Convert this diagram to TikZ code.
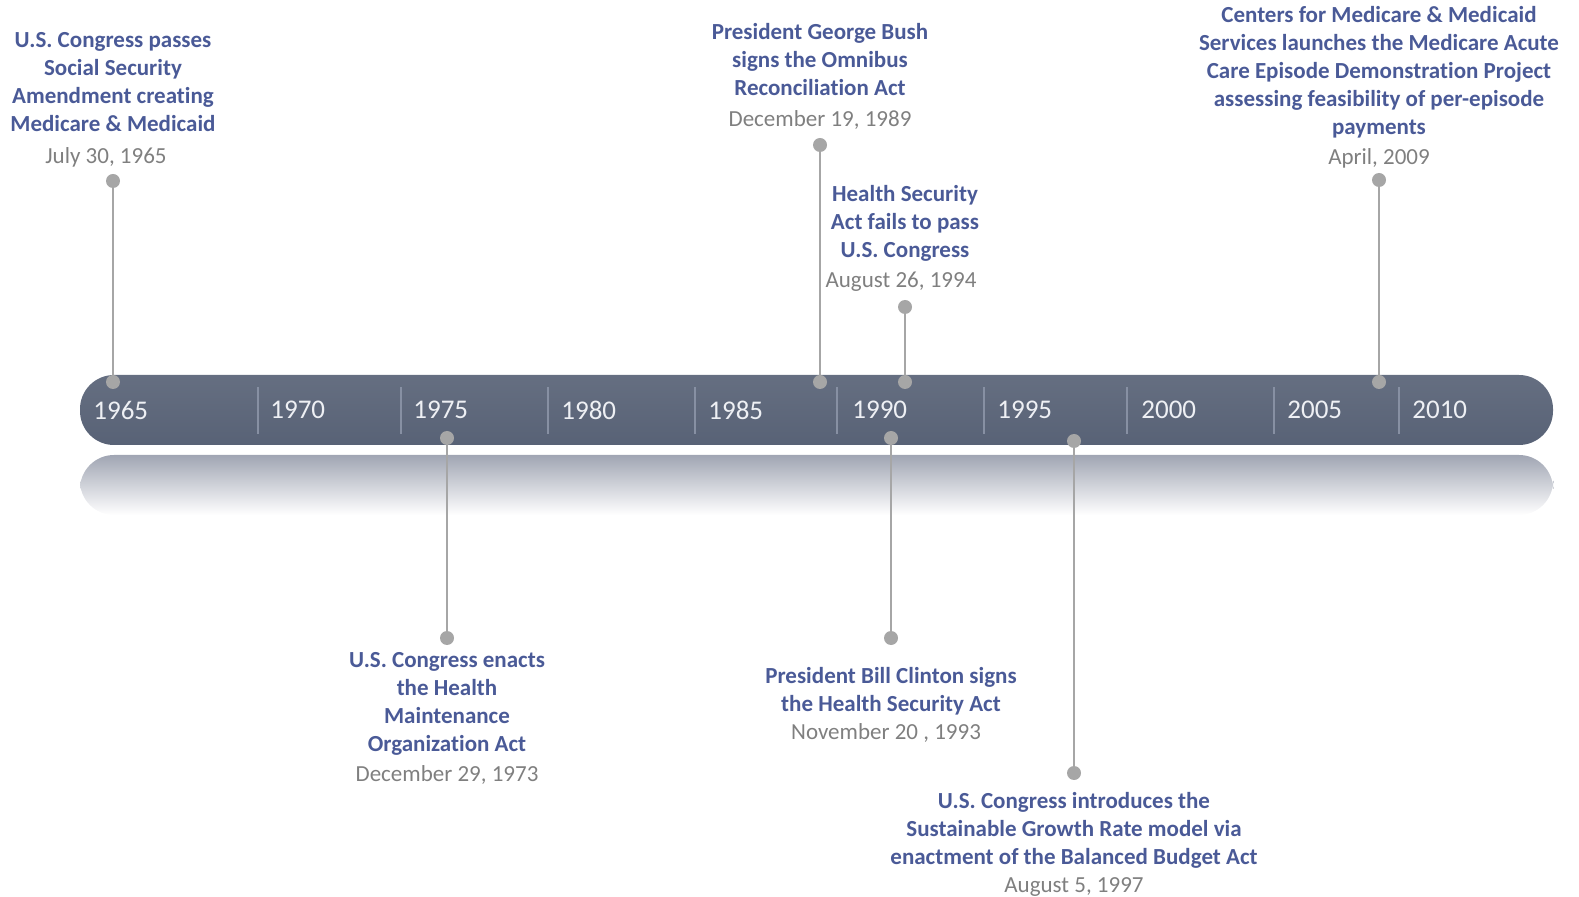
\documentclass[tikz,border=0pt]{standalone}
\usepackage{fontspec}
\setmainfont{Carlito}[Ligatures=NoCommon]
\definecolor{barcol}{HTML}{586276}
\definecolor{sepcol}{HTML}{8790A3}
\definecolor{yearcol}{HTML}{EEF0F4}
\definecolor{titleblue}{HTML}{4A5A97}
\definecolor{dategray}{HTML}{7F7F7F}
\definecolor{stemgray}{HTML}{A6A6A6}
\definecolor{reflcol}{HTML}{A0A5B3}
\tikzset{
  title/.style={align=center, text=titleblue, font=\bfseries\fontsize{11.5}{14}\selectfont, inner sep=0pt},
  datum/.style={text=dategray, font=\fontsize{11.5}{14}\selectfont, inner sep=0pt},
  yearlbl/.style={anchor=west, text=yearcol, font=\fontsize{13.5}{16}\selectfont, inner sep=0pt},
  pin/.style={circle, fill=stemgray, inner sep=0pt, minimum size=7pt},
  stem/.style={draw=stemgray, line width=1pt},
  sep/.style={draw=sepcol, line width=0.6pt}
}
\begin{document}
\begin{tikzpicture}[x=0.5pt,y=-0.5pt]
	\useasboundingbox (0,0) rectangle (1579,897);
	% reflection and bar
	\shade [top color=reflcol, middle color=reflcol!12!white, bottom color=white, rounded corners=17pt] (80,515)--(80,455)--(1553,455)--(1553,515)--cycle;
	\shade [top color=barcol!92!white, bottom color=barcol, rounded corners=17pt] (80,375) rectangle (1553,445);
	% separators
	\draw [sep] (258,387)--(258,434);
	\draw [sep] (401,387)--(401,434);
	\draw [sep] (548,387)--(548,434);
	\draw [sep] (695,387)--(695,434);
	\draw [sep] (837,387)--(837,434);
	\draw [sep] (984,387)--(984,434);
	\draw [sep] (1127,387)--(1127,434);
	\draw [sep] (1274,387)--(1274,434);
	\draw [sep] (1399,387)--(1399,434);
	% years
	\node [yearlbl] (y1965) at (93,410) {1965};
	\node [yearlbl] (y1970) at (270,410) {1970};
	\node [yearlbl] (y1975) at (413,410) {1975};
	\node [yearlbl] (y1980) at (561,410) {1980};
	\node [yearlbl] (y1985) at (708,410) {1985};
	\node [yearlbl] (y1990) at (852,410) {1990};
	\node [yearlbl] (y1995) at (997,410) {1995};
	\node [yearlbl] (y2000) at (1141,410) {2000};
	\node [yearlbl] (y2005) at (1287,410) {2005};
	\node [yearlbl] (y2010) at (1412,410) {2010};
	% events above the bar
	\node [pin] (top65) at (113,181) {};
	\node [pin] (bot65) at (113,382) {};
	\draw [stem] (top65)--(bot65);
	\node [title] (ev65) at (113,82) {U.S. Congress passes\\Social Security\\Amendment creating\\Medicare \& Medicaid};
	\node [datum] (dt65) at (106,157) {July 30, 1965};
	\node [pin] (top89) at (820,145) {};
	\node [pin] (bot89) at (820,382) {};
	\draw [stem] (top89)--(bot89);
	\node [title] (ev89) at (820,60) {President George Bush\\signs the Omnibus\\Reconciliation Act};
	\node [datum] (dt89) at (820,120) {December 19, 1989};
	\node [pin] (top94) at (905,307) {};
	\node [pin] (bot94) at (905,382) {};
	\draw [stem] (top94)--(bot94);
	\node [title] (ev94) at (905,223) {Health Security\\Act fails to pass\\U.S. Congress};
	\node [datum] (dt94) at (901,282) {August 26, 1994};
	\node [pin] (top09) at (1379,180) {};
	\node [pin] (bot09) at (1379,382) {};
	\draw [stem] (top09)--(bot09);
	\node [title] (ev09) at (1379,72) {Centers for Medicare \& Medicaid\\Services launches the Medicare Acute\\Care Episode Demonstration Project\\assessing feasibility of per-episode\\payments};
	\node [datum] (dt09) at (1379,158) {April, 2009};
	% events below the bar
	\node [pin] (top73) at (447,438) {};
	\node [pin] (bot73) at (447,638) {};
	\draw [stem] (top73)--(bot73);
	\node [title] (ev73) at (447,704) {U.S. Congress enacts\\the Health\\Maintenance\\Organization Act};
	\node [datum] (dt73) at (447,775) {December 29, 1973};
	\node [pin] (top93) at (891,438) {};
	\node [pin] (bot93) at (891,638) {};
	\draw [stem] (top93)--(bot93);
	\node [title] (ev93) at (891,691) {President Bill Clinton signs\\the Health Security Act};
	\node [datum] (dt93) at (886,733) {November 20 , 1993};
	\node [pin] (top97) at (1074,441) {};
	\node [pin] (bot97) at (1074,773) {};
	\draw [stem] (top97)--(bot97);
	\node [title] (ev97) at (1074,830) {U.S. Congress introduces the\\Sustainable Growth Rate model via\\enactment of the Balanced Budget Act};
	\node [datum] (dt97) at (1074,887) {August 5, 1997};
\end{tikzpicture}
\end{document}
